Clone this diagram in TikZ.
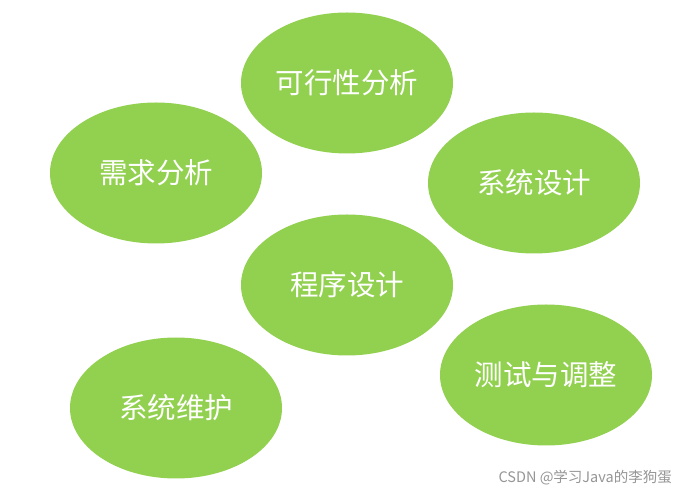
\documentclass[tikz,border=0pt]{standalone}
\usepackage{fontspec}
\setmainfont{Noto Sans CJK SC}
\newfontfamily\cjk{Noto Sans CJK SC}
\usetikzlibrary{shapes.geometric}
\definecolor{leaf}{RGB}{146,208,80}
\definecolor{mark}{RGB}{150,150,150}
\tikzset{
  stage/.style={ellipse, fill=leaf, minimum width=212pt, minimum height=141pt, inner sep=0pt,
    text=white, font=\cjk\fontsize{28.5}{32}\selectfont},
  wm/.style={text=mark, font=\cjk\fontsize{14.5}{16}\selectfont, anchor=east, inner sep=0pt}
}
\begin{document}
\begin{tikzpicture}[x=1pt,y=1pt]
\useasboundingbox (0,0) rectangle (686,495);
\fill[white] (0,0) rectangle (686,495);
\node[stage] (kx) at (347,412) {可行性分析};
\node[stage] (xq) at (156,322) {需求分析};
\node[stage] (xt) at (534,312) {系统设计};
\node[stage] (cx) at (347,210) {程序设计};
\node[stage] (cs) at (546,120) {测试与调整};
\node[stage] (wh) at (176,87) {系统维护};
\node[wm] (mk) at (672,17) {CSDN @学习Java的李狗蛋};
\end{tikzpicture}
\end{document}
